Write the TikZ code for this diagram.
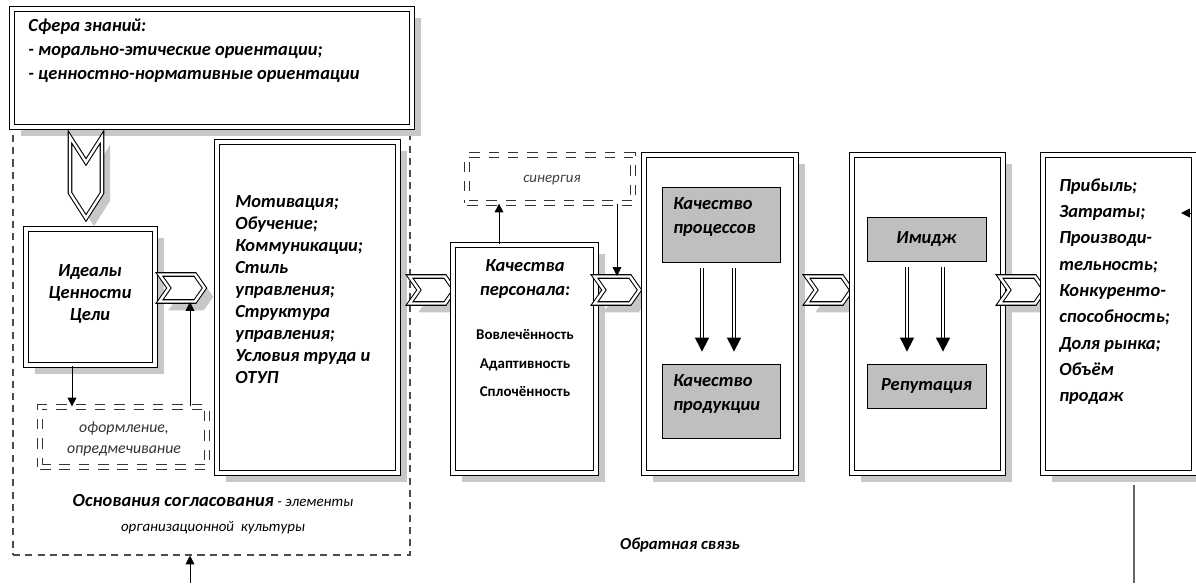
\documentclass[tikz,border=0pt]{standalone}
\usepackage{fontspec}
\setmainfont{Carlito}[ItalicFont=Carlito Italic, BoldFont=Carlito Bold, BoldItalicFont=Carlito Bold Italic]
\usetikzlibrary{arrows.meta,fit,shapes.symbols,shadows}

\tikzset{
  boxshadow/.style={drop shadow={shadow xshift=5pt, shadow yshift=-5pt, fill=black!22, opacity=1}},
  dblbox/.style={draw, double, double distance=2pt, line width=0.6pt, fill=white, inner sep=0pt, boxshadow},
  dashbox/.style={draw=black!80, double, double distance=2.2pt, line width=0.7pt, dash pattern=on 6pt off 5pt, inner sep=0pt},
  graybox/.style={draw, fill=black!25, inner sep=0pt, line width=0.5pt},
  chev/.style={signal, signal from=west, signal to=east, signal pointer angle=110, draw, double, double distance=1.4pt, line width=0.6pt, fill=white, inner sep=0pt, minimum width=0.9cm, minimum height=0.54cm, boxshadow},
  arr/.style={-{Triangle[width=5pt,length=5pt]}, line width=0.5pt},
  dblarr/.style={double, double distance=1.3pt, line width=0.5pt, -{Triangle[width=8pt,length=8pt]}, shorten <=3.4pt, shorten >=6.8pt},
  txt/.style={font=\fontsize{10.5}{12.5}\selectfont\bfseries\itshape, align=left, inner sep=0pt},
}

\begin{document}
\begin{tikzpicture}[x=0.02cm, y=-0.02cm]

  \useasboundingbox (0,0) rectangle (1196,583);

  % left block
  \node[fit={(13,127) (410,555)}, inner sep=0pt, draw=black!70, line width=0.6pt, dash pattern=on 4pt off 3pt] (base) {};

  \node[dblbox, fit={(12,9) (412,127)}] (sphere) {};
  \node[txt, anchor=north west, font=\fontsize{10.5}{13.6}\selectfont\bfseries\itshape] (spheretxt) at (28,19)
    {Сфера знаний:\\- морально-этические ориентации;\\- ценностно-нормативные ориентации};

  % down chevron
  \fill[black!22] (78,145) -- (94,170) -- (110,145) -- (110,201) -- (94,226) -- (78,201) -- cycle;
  \draw[double, double distance=1.4pt, line width=0.6pt, fill=white]
    (70,137) -- (86,162) -- (102,137) -- (102,193) -- (86,218) -- (70,193) -- cycle;

  \node[dblbox, fit={(26,229) (155,365)}] (ideal) {};
  \node[txt, align=center] (idealtxt) at (90,294) {Идеалы\\Ценности\\Цели};

  \node[dashbox, fit={(40,407) (207,467)}] (form) {};
  \node[inner sep=0pt, align=center, font=\fontsize{9}{11.5}\selectfont\itshape, text=black!80] (formtxt) at (124,439)
    {оформление,\\опредмечивание};

  \node[dblbox, fit={(217,142) (398,473)}] (motiv) {};
  \node[txt, anchor=north west] (motivtxt) at (235,195)
    {Мотивация;\\Обучение;\\Коммуникации;\\Стиль\\управления;\\Структура\\управления;\\Условия труда и\\ОТУП};

  \node[chev] (c1) at (182,288) {};

  \node[inner sep=0pt, align=center, font=\fontsize{8.5}{14}\selectfont\itshape] (basetxt) at (213,514)
    {{\fontsize{10.5}{14}\selectfont\bfseries Основания согласования} - элементы\\организационной\ \ культуры};

  \draw[arr] (ideal.south -| 72,0) -- (form.north -| 72,0);
  \draw[arr] (form.north -| 190,0) -- (c1.south -| 190,0);

  % personnel
  \node[chev] (c2) at (432,290) {};

  \node[dashbox, fit={(467,155) (633,203)}] (syn) {};
  \node[inner sep=0pt, font=\fontsize{8.5}{10}\selectfont\itshape, text=black!75] (syntxt) at (552,180) {синергия};

  \node[dblbox, fit={(453,245) (596,473)}] (kach) {};
  \node[txt, align=center, font=\fontsize{10.5}{14}\selectfont\bfseries\itshape] (kachtxt) at (525,279) {Качества\\персонала:};
  \node[inner sep=0pt, align=center, font=\fontsize{8.5}{16.4}\selectfont\bfseries] (kachlist) at (525,363)
    {Вовлечённость\\Адаптивность\\Сплочённость};

  \node[chev] (c3) at (617,290) {};

  \draw[arr] (kach.north -| 499,0) -- (syn.south -| 499,0);
  \draw[arr] (syn.south -| c3.north) -- (c3.north);

  % processes
  \node[dblbox, fit={(644,155) (796,473)}] (procbox) {};
  \node[graybox, fit={(662,187) (780,262)}] (procq) {};
  \node[graybox, fit={(662,364) (780,438)}] (prodq) {};
  \node[txt, anchor=west, font=\fontsize{10.5}{13.6}\selectfont\bfseries\itshape] (procqtxt) at (673,217) {Качество\\процессов};
  \node[txt, anchor=west, font=\fontsize{10.5}{13.6}\selectfont\bfseries\itshape] (prodqtxt) at (673,394) {Качество\\продукции};
  \draw[dblarr] (procq.south -| 702,0) -- (prodq.north -| 702,0);
  \draw[dblarr] (procq.south -| 734,0) -- (prodq.north -| 734,0);

  \node[chev] (c4) at (829,290) {};

  % image
  \node[dblbox, fit={(852,155) (1003,473)}] (imgbox) {};
  \node[graybox, fit={(867,217) (986,261)}] (imidzh) {};
  \node[graybox, fit={(867,364) (986,408)}] (reput) {};
  \node[txt] (imidzhtxt) at (imidzh.center) {Имидж};
  \node[txt] (reputtxt) at (reput.center) {Репутация};
  \draw[dblarr] (imidzh.south -| 907,0) -- (reput.north -| 907,0);
  \draw[dblarr] (imidzh.south -| 943,0) -- (reput.north -| 943,0);

  \node[chev] (c5) at (1022,290) {};

  % results
  \node[dblbox, fit={(1043,155) (1194,473)}] (result) {};
  \node[txt, anchor=north west, font=\fontsize{10.5}{15}\selectfont\bfseries\itshape] (resulttxt) at (1059,178)
    {Прибыль;\\Затраты;\\Производи-\\тельность;\\Конкуренто-\\способность;\\Доля рынка;\\Объём\\продаж};

  % feedback
  \coordinate (fbin) at (1191,213);
  \draw[arr] (fbin) -- ++(-10,0);

  \coordinate (fbtop) at (1134,485);
  \coordinate (fbend) at (1134,583);
  \draw[black!60, line width=0.6pt] (fbtop) -- (fbend);

  \node[inner sep=0pt, font=\fontsize{9.5}{11}\selectfont\bfseries\itshape] (fbtxt) at (680,545) {Обратная связь};

  \coordinate (fbstart) at (190,583);
  \draw[arr] (fbstart) -- (base.south -| fbstart);

\end{tikzpicture}
\end{document}
